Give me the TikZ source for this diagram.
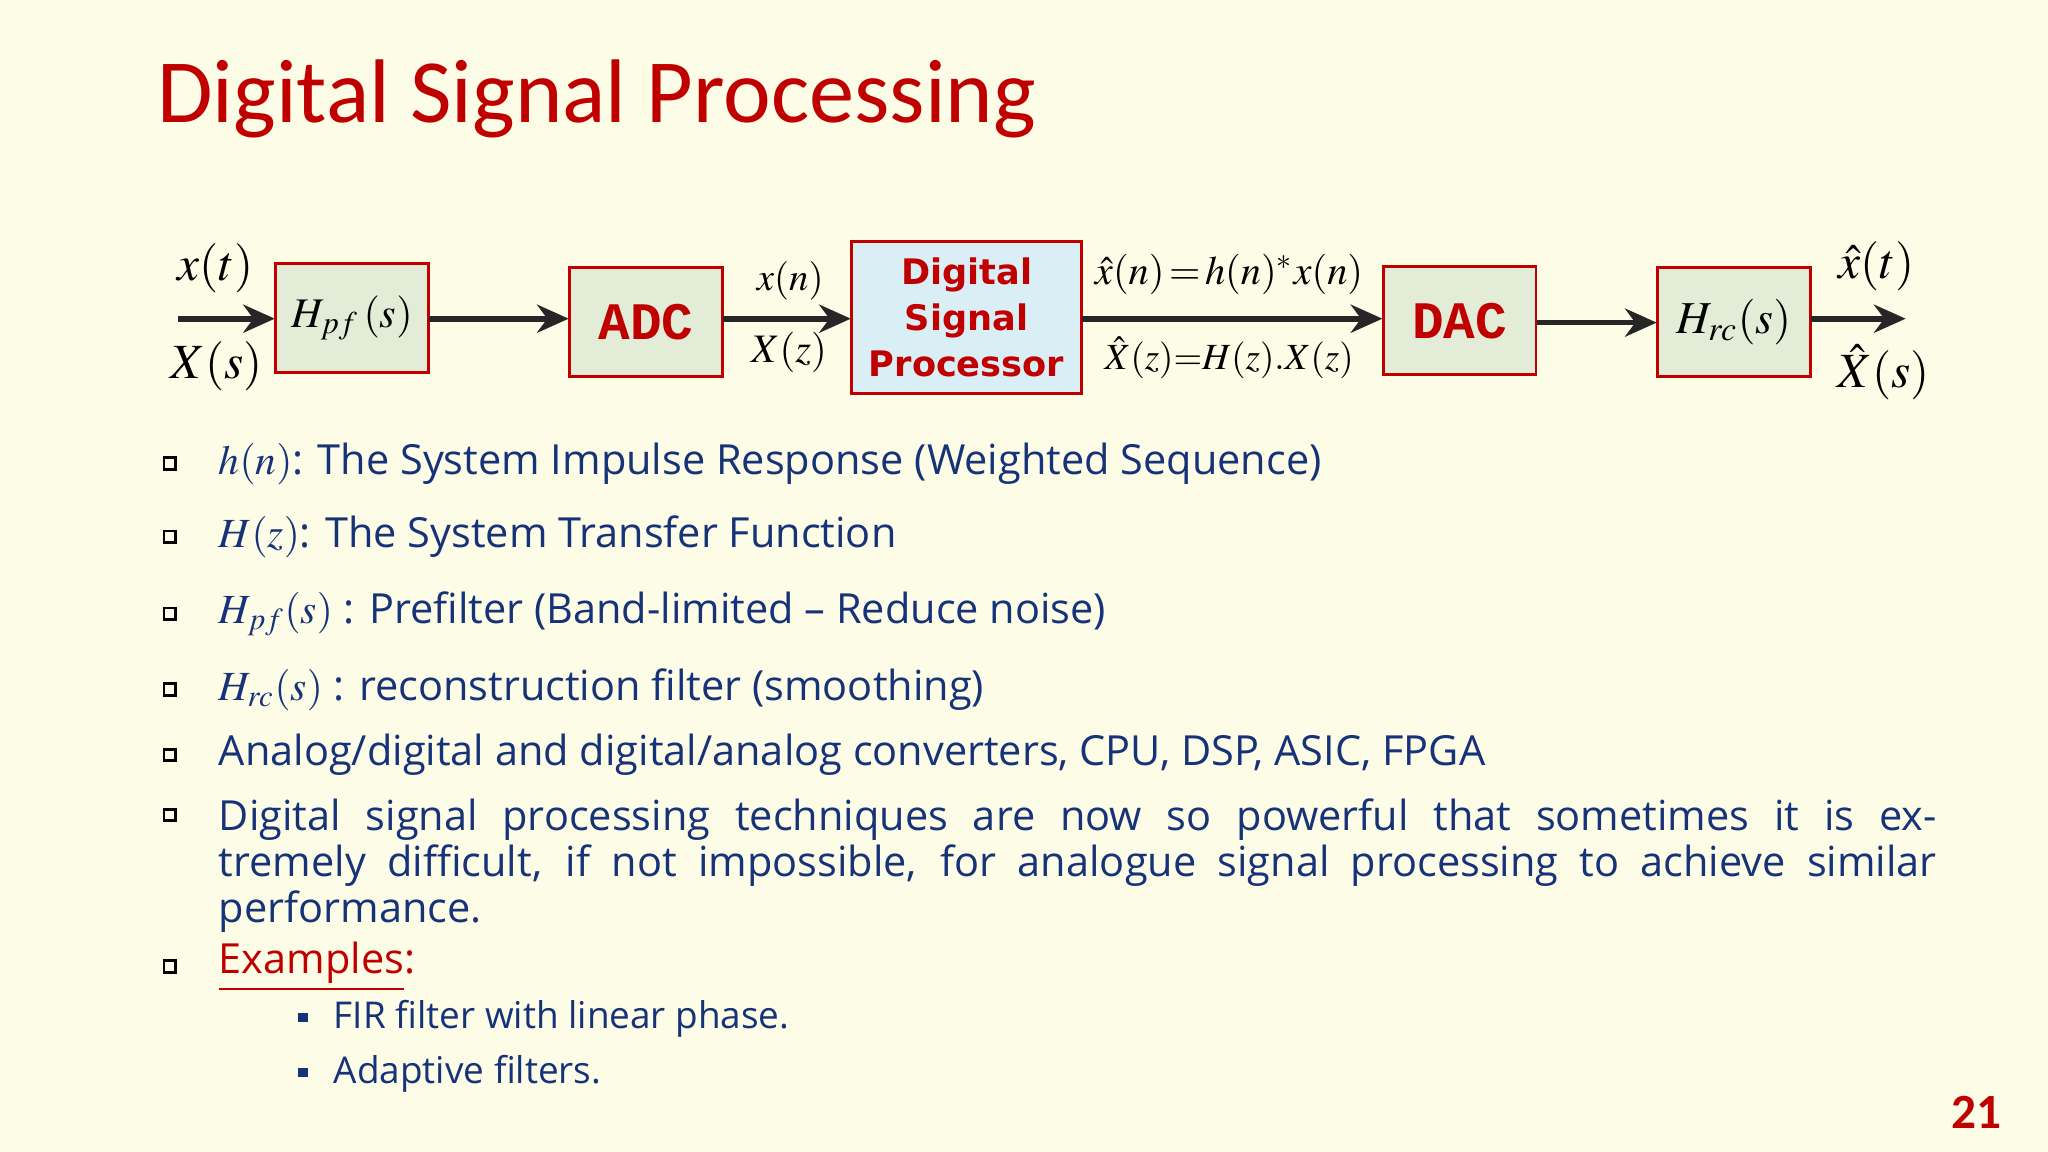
\documentclass[tikz,border=0pt]{standalone}
\usepackage{mathptmx}
\usepackage{fontspec}
\setmainfont{Open Sans}
\setmonofont{Liberation Mono}
\newfontfamily\titlef{Carlito}
\newfontfamily\dejaf{DejaVu Sans Bold}
\usetikzlibrary{arrows.meta}
\definecolor{bg}{RGB}{253,252,230}
\definecolor{tred}{RGB}{192,0,0}
\definecolor{tblue}{RGB}{22,50,120}
\definecolor{gfill}{RGB}{226,236,214}
\definecolor{bfill}{RGB}{218,238,246}
\tikzset{
  blk/.style={draw=tred, line width=0.8pt, fill=gfill},
  bx/.style={minimum width=1.53cm, minimum height=1.08cm},
  conn/.style={-{Stealth[length=9pt,width=8pt]}, line width=1.6pt, black!85},
  lab/.style={font=\fontsize{13}{15}\selectfont},
  btxt/.style={anchor=west, text=tblue, font=\fontsize{11.8}{15}\selectfont, inner sep=0pt},
  sq/.style={draw=black, line width=0.8pt, minimum size=3.3pt, inner sep=0pt},
  sb/.style={fill=tblue, minimum size=2.6pt, inner sep=0pt},
}
\begin{document}
\begin{tikzpicture}[x=0.013061cm, y=-0.013061cm]
\fill[bg] (0,0) rectangle (1568,882);
\useasboundingbox (0,0) rectangle (1568,882);
\node[anchor=west, text=tred, font=\titlef\fontsize{25.7}{30}\selectfont, inner sep=0pt] (title) at (120,76) {Digital Signal Processing};
% blocks
\path[blk] (211,202) rectangle (328,285); \node[bx, font=\fontsize{12}{14}\selectfont] (hpf) at (269.5,243.5) {$H_{pf}\,(s)$};
\path[blk] (436,205) rectangle (553,288); \node[bx, text=tred, font=\ttfamily\bfseries\fontsize{15}{16}\selectfont] (adc) at (494.5,246.5) {ADC};
\path[blk, fill=bfill] (652,185) rectangle (828,301); \node (dsp) at (740,243) [minimum width=2.3cm, minimum height=1.5cm, align=center, text=tred, font=\dejaf\fontsize{10}{13.2}\selectfont]{Digital\\Signal\\Processor};
\path[blk] (1059,204) rectangle (1176,287); \node[bx, text=tred, font=\ttfamily\bfseries\fontsize{15}{16}\selectfont] (dac) at (1117.5,245.5) {DAC};
\path[blk] (1269,205) rectangle (1386,288); \node[bx, font=\fontsize{13}{14}\selectfont] (hrc) at (1327.5,246.5) {$H_{rc}(s)$};
\coordinate (in) at (136,244);
\coordinate (out) at (1459,244);
\draw[conn] (in) -- (hpf.west |- in);
\draw[conn] (hpf.east |- 0,244) -- (adc.west |- 0,244);
\draw[conn] (adc.east |- 0,244) -- (dsp.west |- 0,244);
\draw[conn] (dsp.east |- 0,244) -- (dac.west |- 0,244);
\draw[conn] (dac.east |- 0,247) -- (hrc.west |- 0,247);
\draw[conn] (hrc.east |- 0,244) -- (out);
\node[lab, font=\fontsize{14}{16}\selectfont] (l1) at (165,205) {$x(t)$};
\node[lab, font=\fontsize{14}{16}\selectfont] (l2) at (166,280) {$X(s)$};
\node[lab, font=\fontsize{11}{14}\selectfont] (l3) at (605,215) {$x(n)$};
\node[lab, font=\fontsize{11.5}{14}\selectfont] (l4) at (604,270) {$X(z)$};
\node[lab, font=\fontsize{11.5}{14}\selectfont] (l5) at (941,210) {$\hat{x}(n)\,{=}\,h(n)^{*}x(n)$};
\node[lab, font=\fontsize{10.5}{14}\selectfont] (l6) at (941,274) {$\hat{X}(z){=}H(z).X(z)$};
\node[lab, font=\fontsize{14}{16}\selectfont] (l7) at (1437,204) {$\hat{x}(t)$};
\node[lab, font=\fontsize{14}{16}\selectfont] (l8) at (1442,285) {$\hat{X}(s)$};
% bullets
\foreach \y/\n in {355/b1,411/b2,470/b3,528/b4,578/b5,624/b6,740/b7} \node[sq] (\n) at (130,\y) {};
\node[btxt] (t1) at (167,355) {$h(n)$: The System Impulse Response (Weighted Sequence)};
\node[btxt] (t2) at (167,411) {$H(z)$: The System Transfer Function};
\node[btxt] (t3) at (167,470) {$H_{pf}(s)$ : Prefilter (Band-limited -- Reduce noise)};
\node[btxt] (t4) at (167,528) {$H_{rc}(s)$ : reconstruction filter (smoothing)};
\node[btxt] (t5) at (167,578) {Analog/digital and digital/analog converters, CPU, DSP, ASIC, FPGA};
\node[btxt, anchor=north west, text width=17.18cm, align=justify, font=\fontsize{11.8}{13.1}\selectfont] (t6) at (167,611) {Digital signal processing techniques are now so powerful that sometimes it is extremely difficult, if not impossible, for analogue signal processing to achieve similar\linebreak performance.};
\node[btxt, text=tred] (t7) at (167,740) {\underline{Examples}:};
\node[sb] (s1) at (232,779) {};
\node[sb] (s2) at (232,821) {};
\node[btxt, font=\fontsize{10.5}{13}\selectfont] (u1) at (255,780) {FIR filter with linear phase.};
\node[btxt, font=\fontsize{10.5}{13}\selectfont] (u2) at (255,822) {Adaptive filters.};
\node[text=tred, font=\titlef\bfseries\fontsize{14}{16}\selectfont] (pg) at (1513,852) {21};
\end{tikzpicture}
\end{document}
